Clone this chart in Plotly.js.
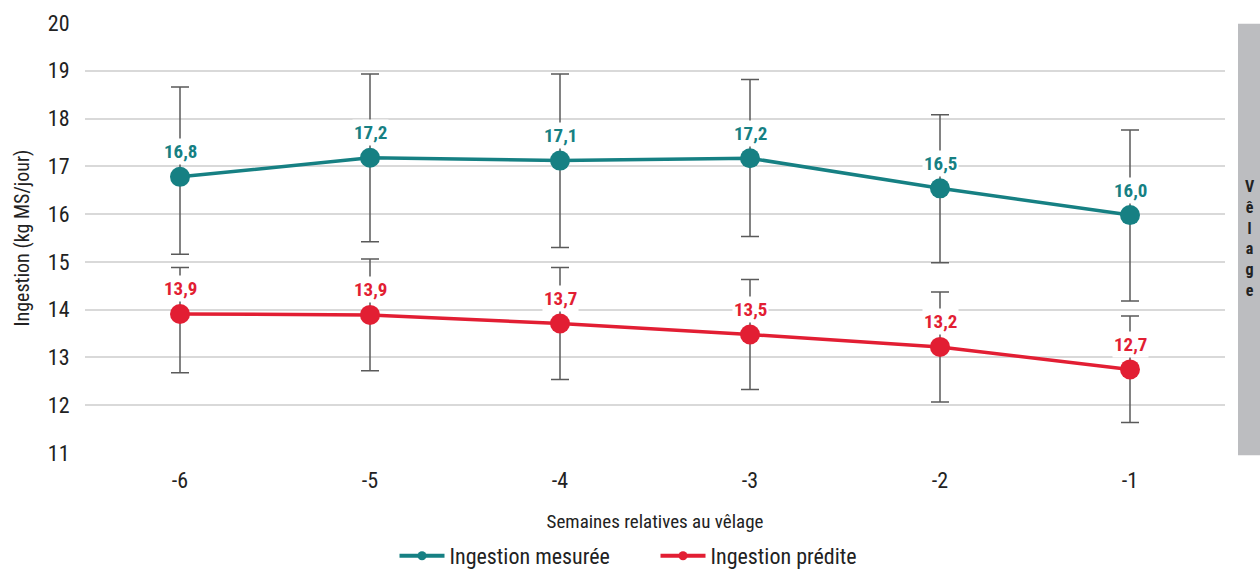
<!DOCTYPE html>
<html>
<head>
<meta charset="utf-8">
<script src="https://cdn.plot.ly/plotly-3.0.1.min.js"></script>
<style>
  html, body { margin: 0; padding: 0; background: #fff; }
  #chart { width: 1260px; height: 569px; }
</style>
</head>
<body>
<div id="chart"></div>
<script>
// Data
var semaines = [-6, -5, -4, -3, -2, -1];
var tickLabels = ['-6', '-5', '-4', '-3', '-2', '-1'];

var mesuree = [16.78, 17.18, 17.12, 17.17, 16.54, 15.98];
var mesureeHaut = [18.66, 18.93, 18.93, 18.82, 18.08, 17.76];
var mesureeBas = [15.16, 15.42, 15.30, 15.53, 14.98, 14.18];
var mesureeLabels = ['16,8', '17,2', '17,1', '17,2', '16,5', '16,0'];

var predite = [13.91, 13.89, 13.71, 13.48, 13.22, 12.75];
var prediteHaut = [14.88, 15.06, 14.88, 14.63, 14.37, 13.87];
var prediteBas = [12.68, 12.72, 12.54, 12.33, 12.07, 11.64];
var prediteLabels = ['13,9', '13,9', '13,7', '13,5', '13,2', '12,7'];

var seriesNames = ['Ingestion mesurée', 'Ingestion prédite'];
var teal = '#168083';
var red = '#e21e33';
var errColor = '#5a5a5a';
var narrow = '"Liberation Sans Narrow", "Roboto Condensed", "Roboto", "Liberation Sans", sans-serif';

function diff(a, b) { return a.map(function (v, i) { return +(v - b[i]).toFixed(3); }); }

function makeTrace(name, y, hi, lo, color) {
  return {
    type: 'scatter',
    mode: 'lines+markers',
    name: name,
    showlegend: false,
    x: semaines,
    y: y,
    line: { color: color, width: 3.5 },
    marker: { color: color, size: 20 },
    error_y: {
      type: 'data',
      symmetric: false,
      array: diff(hi, y),
      arrayminus: diff(y, lo),
      color: errColor,
      thickness: 1.5,
      width: 9
    }
  };
}

function legendTrace(name, color) {
  return {
    type: 'scatter', mode: 'lines+markers', name: name,
    x: [null], y: [null],
    line: { color: color, width: 4 },
    marker: { color: color, size: 9 },
    showlegend: true
  };
}

var traces = [
  makeTrace(seriesNames[0], mesuree, mesureeHaut, mesureeBas, teal),
  makeTrace(seriesNames[1], predite, prediteHaut, prediteBas, red),
  legendTrace(seriesNames[0], teal),
  legendTrace(seriesNames[1], red)
];

var annotations = [];
function addLabels(y, labels, color) {
  for (var i = 0; i < semaines.length; i++) {
    annotations.push({
      x: semaines[i], y: y[i], xref: 'x', yref: 'y',
      text: '<b>' + labels[i] + '</b>',
      showarrow: false,
      yshift: 25,
      bgcolor: '#ffffff',
      borderpad: 1,
      font: { family: narrow, size: 19, color: color }
    });
  }
}
addLabels(mesuree, mesureeLabels, teal);
addLabels(predite, prediteLabels, red);

annotations.push({
  xref: 'paper', yref: 'paper',
  x: 1.0215, y: 0.5,
  xanchor: 'center', yanchor: 'middle',
  text: '<b>V<br>ê<br>l<br>a<br>g<br>e</b>',
  showarrow: false,
  font: { family: narrow, size: 16, color: '#222' },
  align: 'center'
});

var layout = {
  width: 1260,
  height: 569,
  margin: { l: 85, r: 35, t: 23, b: 116, autoexpand: false },
  paper_bgcolor: '#ffffff',
  plot_bgcolor: '#ffffff',
  showlegend: true,
  legend: {
    orientation: 'h',
    x: 0.2715, xanchor: 'left',
    y: -0.2395, yanchor: 'middle',
    font: { family: narrow, size: 22, color: '#222' },
    itemwidth: 45,
    entrywidth: 201,
    entrywidthmode: 'pixels',
    tracegroupgap: 0
  },
  xaxis: {
    type: 'linear',
    range: [-6.5, -0.5],
    tickmode: 'array',
    tickvals: semaines,
    ticktext: tickLabels,
    showgrid: false,
    zeroline: false,
    showline: false,
    ticks: 'outside',
    ticklen: 8,
    tickcolor: 'rgba(0,0,0,0)',
    tickfont: { family: narrow, size: 22, color: '#222' },
    title: { text: 'Semaines relatives au vêlage', font: { family: narrow, size: 19, color: '#222' }, standoff: 22 },
    fixedrange: true
  },
  yaxis: {
    range: [11, 20],
    tickvals: [11, 12, 13, 14, 15, 16, 17, 18, 19, 20],
    showgrid: true,
    gridcolor: '#d9d9d9',
    gridwidth: 2,
    zeroline: false,
    showline: false,
    ticks: 'outside',
    ticklen: 10,
    tickcolor: 'rgba(0,0,0,0)',
    tickfont: { family: narrow, size: 22, color: '#222' },
    title: { text: 'Ingestion (kg MS/jour)', font: { family: narrow, size: 20, color: '#222' }, standoff: 12 },
    fixedrange: true
  },
  shapes: [{
    type: 'rect', xref: 'paper', yref: 'paper',
    x0: 1.0114, x1: 1.035, y0: -0.005, y1: 0.998,
    fillcolor: '#bcbdc0', line: { width: 0 }, layer: 'below'
  }],
  annotations: annotations
};

Plotly.newPlot('chart', traces, layout, { displayModeBar: false, staticPlot: true });
</script>
</body>
</html>
